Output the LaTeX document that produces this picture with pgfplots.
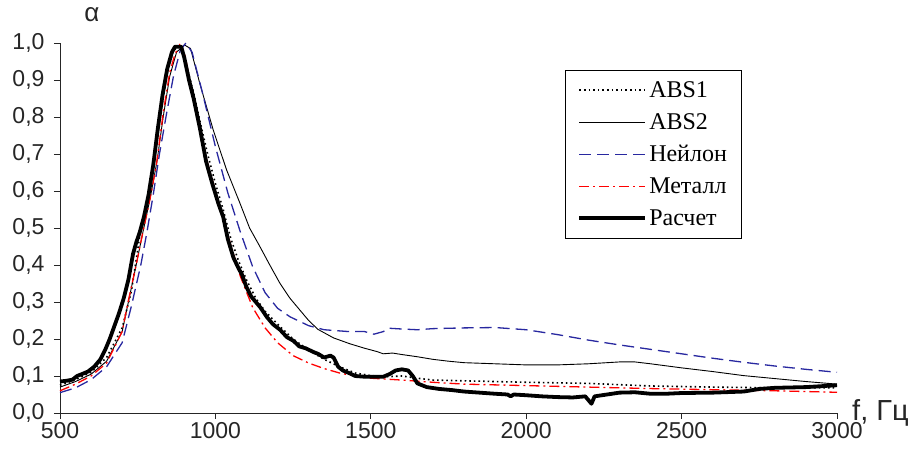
\documentclass[border=0pt]{standalone}
\usepackage{fontspec}
\setmainfont{Liberation Serif}
\newfontfamily\arial{Liberation Sans}
\usepackage{pgfplots}
\pgfplotsset{compat=1.18}
\definecolor{nylon}{RGB}{40,40,160}
\definecolor{metal}{RGB}{255,0,0}
\begin{document}
\begin{tikzpicture}
\begin{axis}[
  at={(0,0)}, anchor=south west,
  scale only axis, width=777pt, height=370pt,
  xmin=500, xmax=3000, ymin=0, ymax=1,
  axis x line=bottom, axis y line=left,
  axis line style={-, line width=0.8pt, black!85},
  tick style={line width=0.8pt, black!85},
  tick align=outside, major tick length=6pt,
  xtick={500,1000,1500,2000,2500,3000},
  ytick={0,0.1,0.2,0.3,0.4,0.5,0.6,0.7,0.8,0.9,1.0},
  /pgf/number format/assume math mode=true,
  tick label style={font=\arial\fontsize{23}{27}\selectfont, text=black!85},
  xticklabel style={/pgf/number format/1000 sep={}},
  yticklabel style={xshift=-6pt},
  yticklabel={\pgfmathprintnumber[fixed,fixed zerofill,precision=1,use comma]{\tick}},
  clip=false,
  legend style={at={(0.65,0.927)}, anchor=north west, draw=black, line width=0.8pt,
    font=\fontsize{24}{28}\selectfont, cells={anchor=west}, row sep=10.6pt,
    inner xsep=12pt, inner ysep=9pt},
  legend image code/.code={\draw[#1] (0pt,0pt) -- (66pt,0pt);},
]
% ABS1
\addplot[black, line width=1.6pt, dash pattern=on 1.6pt off 3pt] coordinates {
(500,0.075)(550,0.09)(600,0.11)(650,0.15)(700,0.23)(730,0.33)(757,0.48)(780,0.56)(800,0.66)(822,0.8)(845,0.92)(865,0.98)(880,0.99)(895,0.98)(910,0.93)(930,0.865)(950,0.79)(975,0.7)(1000,0.62)(1025,0.55)(1050,0.47)(1075,0.41)(1100,0.36)(1130,0.31)(1160,0.275)(1200,0.24)(1250,0.2)(1300,0.17)(1350,0.145)(1400,0.125)(1450,0.108)(1500,0.101)(1550,0.098)(1600,0.1)(1650,0.094)(1700,0.089)(1800,0.087)(1900,0.085)(2000,0.083)(2200,0.08)(2400,0.073)(2600,0.07)(2800,0.068)(3000,0.068)};
\addlegendentry{ABS1}
% ABS2
\addplot[black, line width=0.9pt] coordinates {
(500,0.07)(550,0.085)(600,0.105)(650,0.14)(700,0.22)(720,0.3)(745,0.4)(767,0.49)(790,0.58)(812,0.68)(832,0.8)(853,0.91)(875,0.975)(900,0.995)(920,0.985)(950,0.89)(993,0.765)(1036,0.657)(1079,0.567)(1110,0.5)(1143,0.45)(1175,0.4)(1208,0.35)(1240,0.31)(1272,0.278)(1300,0.25)(1330,0.226)(1380,0.203)(1433,0.187)(1480,0.175)(1520,0.166)(1540,0.16)(1570,0.162)(1600,0.158)(1650,0.152)(1700,0.145)(1750,0.14)(1800,0.136)(1900,0.133)(2000,0.13)(2100,0.13)(2200,0.133)(2300,0.138)(2350,0.138)(2400,0.133)(2500,0.122)(2600,0.112)(2700,0.101)(2800,0.093)(2900,0.085)(3000,0.078)};
\addlegendentry{ABS2}
% Nylon
\addplot[nylon, line width=1.3pt, dash pattern=on 12pt off 6pt] coordinates {
(500,0.055)(550,0.068)(600,0.09)(650,0.125)(700,0.19)(730,0.29)(760,0.4)(780,0.49)(800,0.59)(820,0.7)(843,0.81)(865,0.91)(887,0.98)(905,1.0)(925,0.975)(960,0.86)(1000,0.72)(1040,0.595)(1080,0.49)(1120,0.395)(1160,0.325)(1200,0.283)(1240,0.26)(1300,0.236)(1350,0.225)(1430,0.22)(1480,0.22)(1510,0.213)(1540,0.22)(1560,0.229)(1600,0.227)(1650,0.225)(1700,0.228)(1800,0.23)(1900,0.231)(2000,0.225)(2100,0.212)(2200,0.197)(2300,0.184)(2400,0.172)(2500,0.16)(2600,0.148)(2700,0.137)(2800,0.127)(2900,0.118)(3000,0.11)};
\addlegendentry{Нейлон}
% Metal
\addplot[metal, line width=1.3pt, dash pattern=on 10pt off 4pt on 2pt off 4pt,
  legend image code/.code={\draw[metal, line width=1.4pt, dash pattern=on 10pt off 4pt on 2pt off 4pt] (0pt,0pt) -- (66pt,0pt);}] coordinates {
(500,0.06)(550,0.078)(600,0.1)(650,0.135)(700,0.22)(719,0.3)(745,0.4)(767,0.49)(790,0.58)(810,0.67)(832,0.81)(853,0.92)(870,0.97)(885,0.995)(900,0.975)(920,0.89)(960,0.72)(1000,0.6)(1040,0.48)(1080,0.37)(1120,0.285)(1160,0.23)(1200,0.19)(1250,0.155)(1300,0.135)(1350,0.12)(1400,0.108)(1450,0.1)(1500,0.094)(1600,0.089)(1700,0.083)(1800,0.078)(2000,0.074)(2200,0.07)(2400,0.066)(2600,0.063)(2800,0.06)(3000,0.056)};
\addlegendentry{Металл}
% Calculation
\addplot[black, line width=3.8pt, line join=round] coordinates {
(500,0.085)(520,0.087)(540,0.09)(555,0.1)(570,0.105)(590,0.112)(610,0.125)(630,0.145)(645,0.17)(660,0.2)(675,0.235)(690,0.27)(705,0.31)(720,0.36)(735,0.43)(745,0.46)(757,0.49)(770,0.53)(785,0.59)(800,0.67)(815,0.77)(830,0.86)(845,0.93)(860,0.975)(870,0.99)(890,0.99)(900,0.96)(915,0.9)(930,0.85)(950,0.77)(970,0.68)(990,0.62)(1010,0.565)(1025,0.53)(1040,0.47)(1058,0.42)(1075,0.39)(1085,0.375)(1100,0.34)(1115,0.315)(1130,0.3)(1145,0.285)(1165,0.26)(1185,0.24)(1208,0.225)(1230,0.205)(1251,0.195)(1270,0.18)(1290,0.175)(1315,0.165)(1330,0.16)(1350,0.15)(1370,0.155)(1380,0.15)(1395,0.125)(1410,0.115)(1430,0.108)(1450,0.1)(1480,0.098)(1510,0.098)(1540,0.098)(1560,0.105)(1580,0.115)(1600,0.118)(1620,0.115)(1635,0.1)(1650,0.08)(1680,0.07)(1720,0.065)(1760,0.062)(1800,0.058)(1850,0.055)(1900,0.052)(1940,0.05)(1950,0.045)(1960,0.05)(2000,0.048)(2050,0.045)(2100,0.043)(2150,0.042)(2190,0.045)(2200,0.035)(2210,0.025)(2220,0.045)(2260,0.05)(2300,0.055)(2350,0.056)(2400,0.052)(2450,0.052)(2500,0.054)(2600,0.055)(2700,0.058)(2750,0.065)(2800,0.068)(2900,0.07)(3000,0.075)};
\addlegendentry{Расчет}
\node[font=\arial\fontsize{26}{30}\selectfont, text=black!85, anchor=base] at (rel axis cs:0,1) [xshift=32pt, yshift=21pt] {α};
\node[font=\arial\fontsize{29}{33}\selectfont, text=black!85, anchor=base west, inner sep=0pt] at (rel axis cs:1,0) [xshift=15pt, yshift=-8pt] {f, Гц};
\end{axis}
\path (-60pt,-41pt) rectangle (857pt,413pt);
\end{tikzpicture}
\end{document}
